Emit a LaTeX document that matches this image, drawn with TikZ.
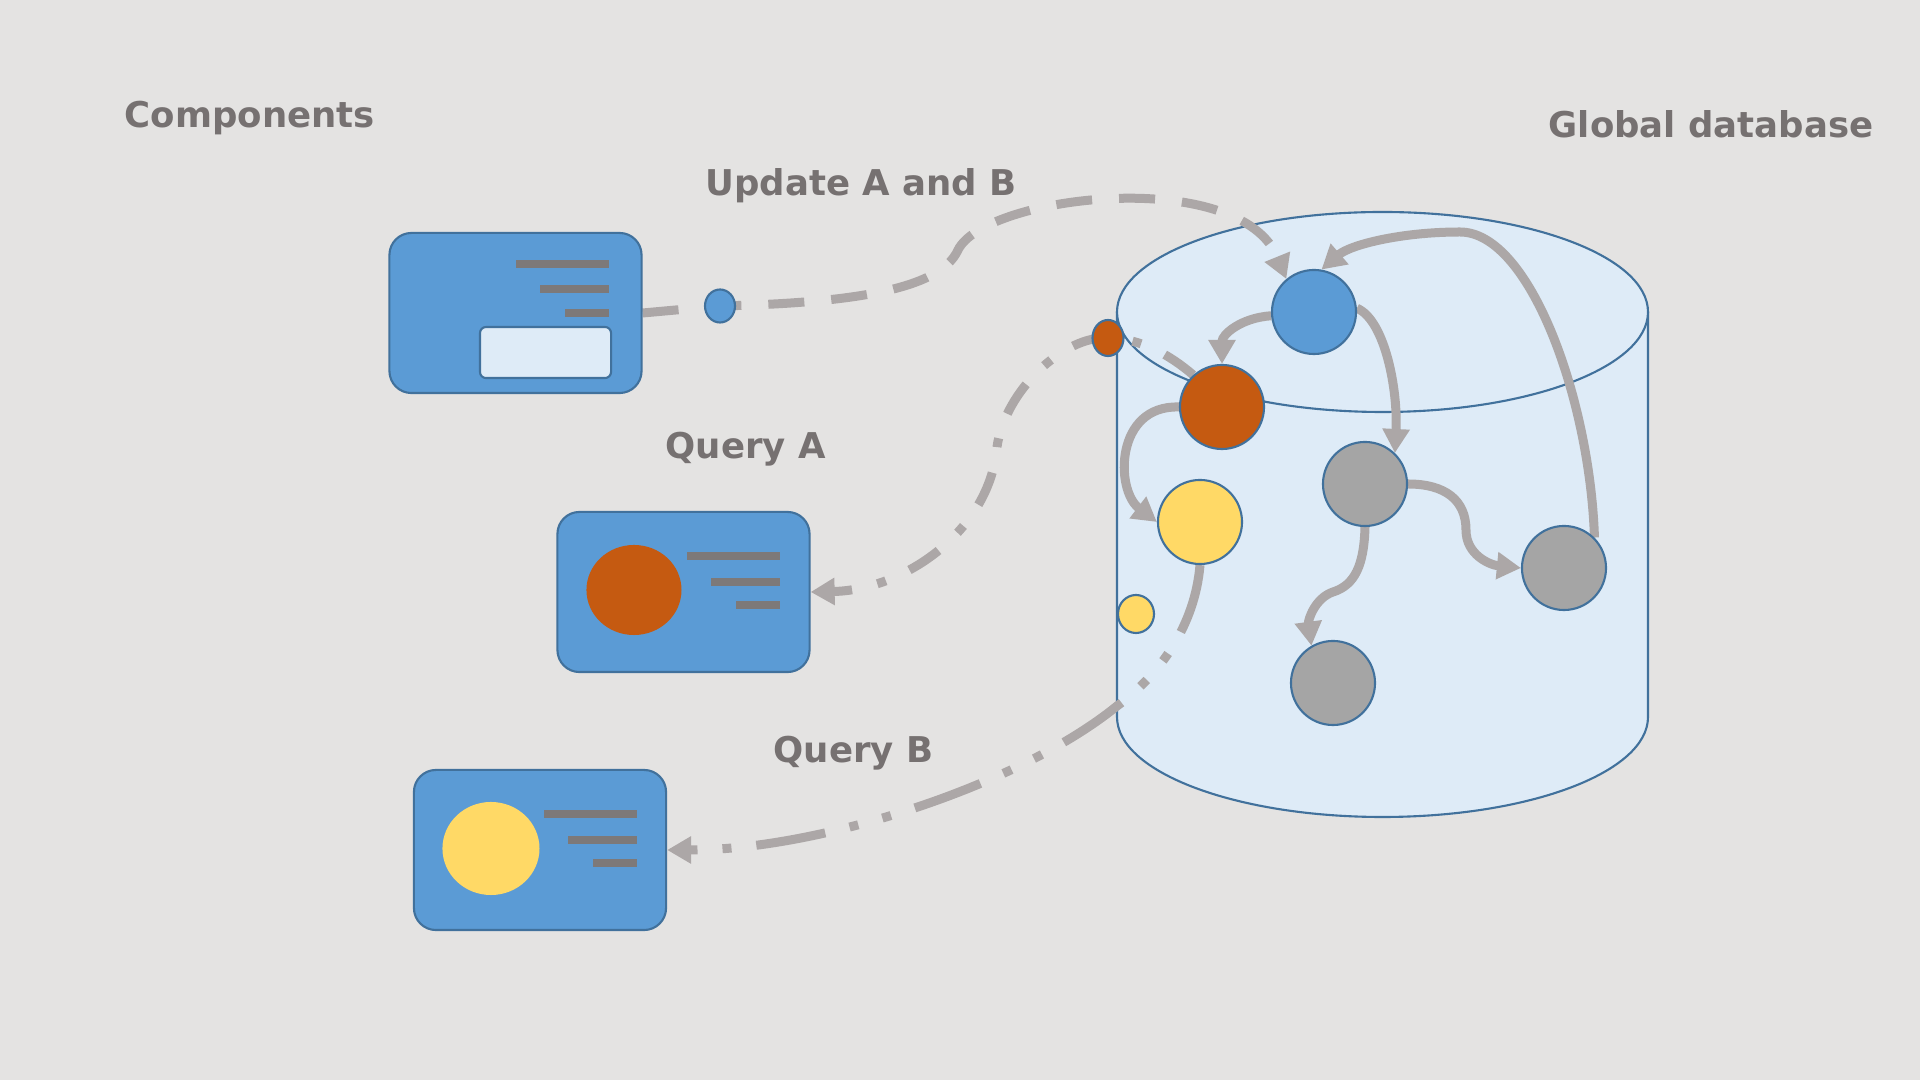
\documentclass[tikz,border=0pt]{standalone}
\usepackage{fontspec}
\setmainfont{DejaVu Sans}
\usetikzlibrary{arrows.meta,shapes.geometric}

\definecolor{fondo}{RGB}{228,227,226}
\definecolor{azul}{RGB}{91,155,213}
\definecolor{azulborde}{RGB}{65,113,156}
\definecolor{cilindro}{RGB}{222,235,247}
\definecolor{naranja}{RGB}{197,90,17}
\definecolor{amarillo}{RGB}{255,217,102}
\definecolor{gris}{RGB}{165,165,165}
\definecolor{flechagris}{RGB}{172,167,167}
\definecolor{barragris}{RGB}{125,121,121}
\definecolor{textogris}{RGB}{118,113,113}

\pgfdeclarelayer{capafondo}
\pgfdeclarelayer{capalineas}
\pgfsetlayers{capafondo,capalineas,main}

\begin{document}
\begin{tikzpicture}[x=0.01cm, y=-0.01cm,
    titulo/.style={font=\bfseries\fontsize{10.1}{12}\selectfont, text=textogris, inner sep=0pt, anchor=base west},
    tarjeta/.style={draw=azulborde, line width=0.6pt, fill=azul, rounded corners=0.22cm, minimum width=2.52cm, minimum height=1.60cm, inner sep=0pt},
    barra/.style={fill=barragris, minimum height=0.08cm, inner sep=0pt, anchor=east},
    bola/.style={circle, draw=azulborde, line width=0.6pt, minimum size=0.84cm, inner sep=0pt},
    bolita/.style={ellipse, draw=azulborde, line width=0.6pt, inner sep=0pt},
    flecha/.style={draw=flechagris, line width=0.09cm, -{Triangle[length=0.24cm,width=0.26cm]}}]
    \useasboundingbox (0,0) rectangle (1920,1080);
    % Fondo y base de datos
    \begin{pgfonlayer}{capafondo}
        \fill[fondo] (0,0) rectangle (1920,1080);
        \fill[cilindro] (1117,312) -- (1117,717) arc[start angle=180, end angle=0, x radius=265.5, y radius=100] -- (1648,312) -- cycle;
        \draw[azulborde, line width=0.6pt] (1117,312) -- (1117,717) arc[start angle=180, end angle=0, x radius=265.5, y radius=100] -- (1648,312);
        \draw[azulborde, line width=0.6pt, fill=cilindro] (1382.5,312) ellipse [x radius=265.5, y radius=100];
    \end{pgfonlayer}
    % Titulos
    \node[titulo] (tComp) at (124,128) {Components};
    \node[titulo] (tDB) at (1548,138) {Global database};
    \node[titulo] (tUpd) at (705,196) {Update A and B};
    \node[titulo] (tQA) at (665,459) {Query A};
    \node[titulo] (tQB) at (773,763) {Query B};
    % Componentes
    \node[tarjeta] (upd) at (515.5,313) {};
    \node[barra, minimum width=0.93cm] (bU1) at ([xshift=-0.33cm, yshift=0.49cm]upd.east) {};
    \node[barra, minimum width=0.69cm] (bU2) at ([xshift=-0.33cm, yshift=0.24cm]upd.east) {};
    \node[barra, minimum width=0.44cm] (bU3) at ([xshift=-0.33cm]upd.east) {};
    \node[draw=azulborde, line width=0.6pt, fill=cilindro, rounded corners=0.06cm, minimum width=1.31cm, minimum height=0.51cm, inner sep=0pt] (ventana) at ([xshift=0.30cm, yshift=-0.395cm]upd.center) {};
    \node[tarjeta] (qa) at (683.5,592) {};
    \node[ellipse, fill=naranja, minimum width=0.95cm, minimum height=0.90cm, inner sep=0pt] (pA) at ([xshift=-0.495cm, yshift=0.02cm]qa.center) {};
    \node[barra, minimum width=0.93cm] (bA1) at ([xshift=-0.30cm, yshift=0.355cm]qa.east) {};
    \node[barra, minimum width=0.69cm] (bA2) at ([xshift=-0.30cm, yshift=0.10cm]qa.east) {};
    \node[barra, minimum width=0.44cm] (bA3) at ([xshift=-0.30cm, yshift=-0.13cm]qa.east) {};
    \node[tarjeta] (qb) at (540,850) {};
    \node[ellipse, fill=amarillo, minimum width=0.97cm, minimum height=0.93cm, inner sep=0pt] (pB) at ([xshift=-0.49cm, yshift=0.015cm]qb.center) {};
    \node[barra, minimum width=0.93cm] (bB1) at ([xshift=-0.29cm, yshift=0.36cm]qb.east) {};
    \node[barra, minimum width=0.69cm] (bB2) at ([xshift=-0.29cm, yshift=0.10cm]qb.east) {};
    \node[barra, minimum width=0.44cm] (bB3) at ([xshift=-0.29cm, yshift=-0.13cm]qb.east) {};
    % Nodos de la base de datos
    \node[bola, fill=azul] (nBlue) at (1314,312) {};
    \node[bola, fill=naranja] (nOrange) at (1222,407) {};
    \node[bola, fill=amarillo] (nYellow) at (1200,522) {};
    \node[bola, fill=gris] (nGray1) at (1365,484) {};
    \node[bola, fill=gris] (nGray2) at (1564,568) {};
    \node[bola, fill=gris] (nGray3) at (1333,683) {};
    % Datos en transito
    \node[bolita, fill=azul, minimum width=0.30cm, minimum height=0.33cm] (dBlue) at (720,306) {};
    \node[bolita, fill=naranja, minimum width=0.31cm, minimum height=0.36cm] (dOrange) at (1108,338) {};
    \node[bolita, fill=amarillo, minimum width=0.36cm, minimum height=0.38cm] (dYellow) at (1136,614) {};
    % Flechas
    \begin{pgfonlayer}{capalineas}
        \draw[flecha, dash pattern=on 0.36cm off 0.27cm] (upd.east) -- (dBlue.center) .. controls (850,303) and (940,290) .. (958,250) .. controls (985,195) and (1240,165) .. (nBlue.130);
        \draw[flecha, dash pattern=on 0.35cm off 0.26cm on 0.09cm off 0.26cm] (nOrange.132) .. controls (1170,355) and (1140,338) .. (dOrange.center) .. controls (1065,335) and (1005,390) .. (997,447) .. controls (990,530) and (905,590) .. (qa.east);
        \draw[flecha, dash pattern=on 0.70cm off 0.25cm on 0.09cm off 0.25cm on 0.09cm off 0.25cm] (nYellow.south) .. controls (1195,625) and (1160,675) .. (1117,706) .. controls (1020,785) and (820,850) .. (qb.east);
        \draw[flecha] (nBlue.185) .. controls (1240,318) and (1222,335) .. (nOrange.north);
        \draw[flecha] (nBlue.5) .. controls (1385,320) and (1398,390) .. (nGray1.46);
        \draw[flecha] (nGray2.45) .. controls (1590,400) and (1530,232) .. (1460,232) .. controls (1400,232) and (1350,245) .. (nBlue.80);
        \draw[flecha] (nOrange.west) .. controls (1115,405) and (1115,490) .. (nYellow.west);
        \draw[flecha] (nGray1.east) .. controls (1445,484) and (1466,500) .. (1466,530) .. controls (1466,555) and (1490,565) .. (nGray2.west);
        \draw[flecha] (nGray1.south) .. controls (1364,565) and (1355,585) .. (1333,592) .. controls (1315,598) and (1308,620) .. (nGray3.120);
    \end{pgfonlayer}
\end{tikzpicture}
\end{document}
